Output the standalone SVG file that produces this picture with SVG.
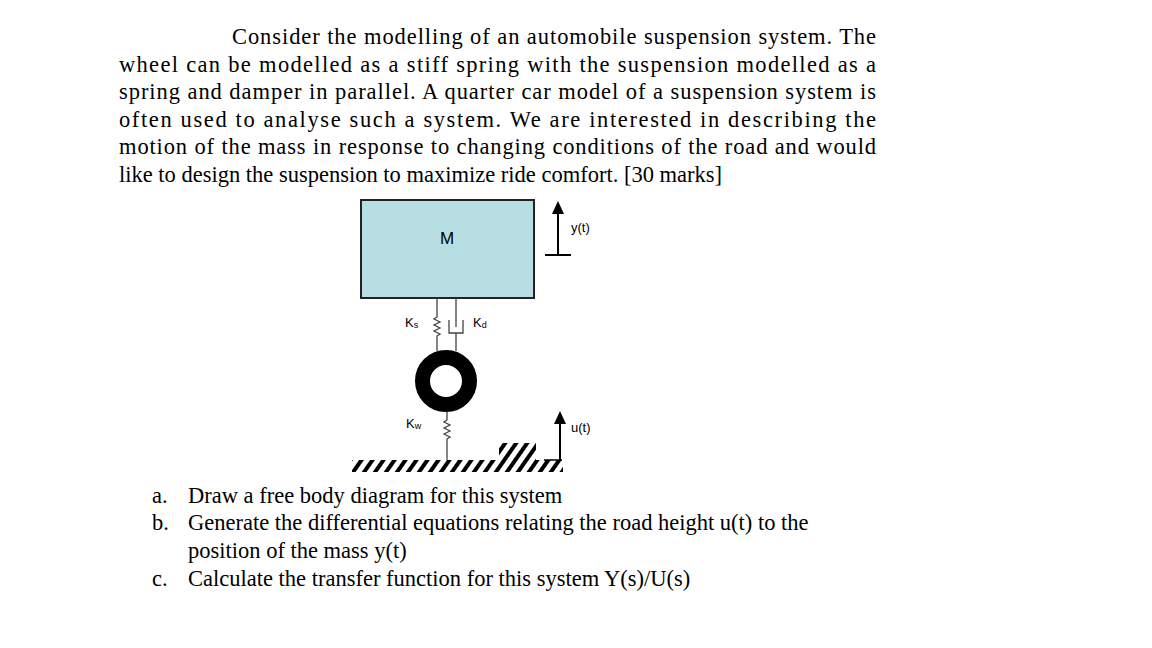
<svg xmlns="http://www.w3.org/2000/svg" width="1152" height="648" viewBox="0 0 1152 648">
<style>
.t{font-family:"Liberation Serif",serif;font-size:22.5px;fill:#000}
.s{font-family:"Liberation Sans",Arial,sans-serif;fill:#000}
.ln{stroke:#444;stroke-width:1.3;fill:none}
.h{stroke:#000;stroke-width:3}
</style>
<defs>
<pattern id="hat" width="9" height="9" patternUnits="userSpaceOnUse" patternTransform="rotate(35)"><rect width="4" height="9" fill="#000"/></pattern>
</defs>
<rect width="1152" height="648" fill="#fff"/>
<g id="text">
<text class="t" x="232" y="44" textLength="644" lengthAdjust="spacing">Consider the modelling of an automobile suspension system.  The</text>
<text class="t" x="119" y="72" textLength="757" lengthAdjust="spacing">wheel can be modelled as a stiff spring with the suspension modelled as a</text>
<text class="t" x="119" y="99" textLength="757" lengthAdjust="spacing">spring and damper in parallel.  A quarter car model of a suspension system is</text>
<text class="t" x="119" y="127" textLength="757" lengthAdjust="spacing">often used to analyse such a system.  We are interested in describing the</text>
<text class="t" x="119" y="154" textLength="757" lengthAdjust="spacing">motion of the mass in response to changing conditions of the road and would</text>
<text class="t" x="119" y="182">like to design the suspension to maximize ride comfort. [30 marks]</text>
<text class="t" x="152" y="503">a.</text><text class="t" x="188" y="503">Draw a free body diagram for this system</text>
<text class="t" x="152" y="530">b.</text><text class="t" x="188" y="530">Generate the differential equations relating the road height u(t) to the</text>
<text class="t" x="188" y="558">position of the mass y(t)</text>
<text class="t" x="152" y="586">c.</text><text class="t" x="188" y="586">Calculate the transfer function for this system Y(s)/U(s)</text>
</g>
<g id="mass"><rect x="361" y="200" width="173" height="98" fill="#b7dfe3" stroke="#222" stroke-width="2"/>
<text class="s" x="447" y="244" font-size="17" text-anchor="middle">M</text></g>
<g id="ground">
<rect x="352" y="460" width="211" height="12" fill="url(#hat)"/>
<rect x="499" y="443" width="37" height="17" fill="url(#hat)"/>
<line x1="544" y1="460" x2="562" y2="460" stroke="#000" stroke-width="1.5"/>
</g>
<g id="wheel"><circle cx="446" cy="381" r="23.5" fill="none" stroke="#000" stroke-width="15"/></g>
<g id="connectors">
<path class="ln" d="M437 298V317l-3 2 6 3-6 3 6 3-6 3 6 3-3 2V351"/>
<path class="ln" d="M456 298V327M449 320V333H463V320M456 333V351"/>
<path class="ln" d="M447 412V420l-3 2 6 3-6 3 6 3-6 3 6 3-3 2V460"/>
<line x1="558" y1="255" x2="558" y2="212" stroke="#000" stroke-width="2"/>
<polygon points="552,214 564,214 558,201"/>
<line x1="545" y1="255" x2="571" y2="255" stroke="#000" stroke-width="2"/>
<line x1="560" y1="460" x2="560" y2="422" stroke="#000" stroke-width="2"/>
<polygon points="554,424 566,424 560,411"/>
</g>
<g id="labels">
<text class="s" x="571" y="232" font-size="13">y(t)</text>
<text class="s" x="571" y="432" font-size="13">u(t)</text>
<text class="s" x="405" y="327" font-size="13">K<tspan font-size="9" dy="1">s</tspan></text>
<text class="s" x="473" y="327" font-size="13">K<tspan font-size="9" dy="1">d</tspan></text>
<text class="s" x="406" y="428" font-size="13">K<tspan font-size="9" dy="1">w</tspan></text>
</g>
</svg>
